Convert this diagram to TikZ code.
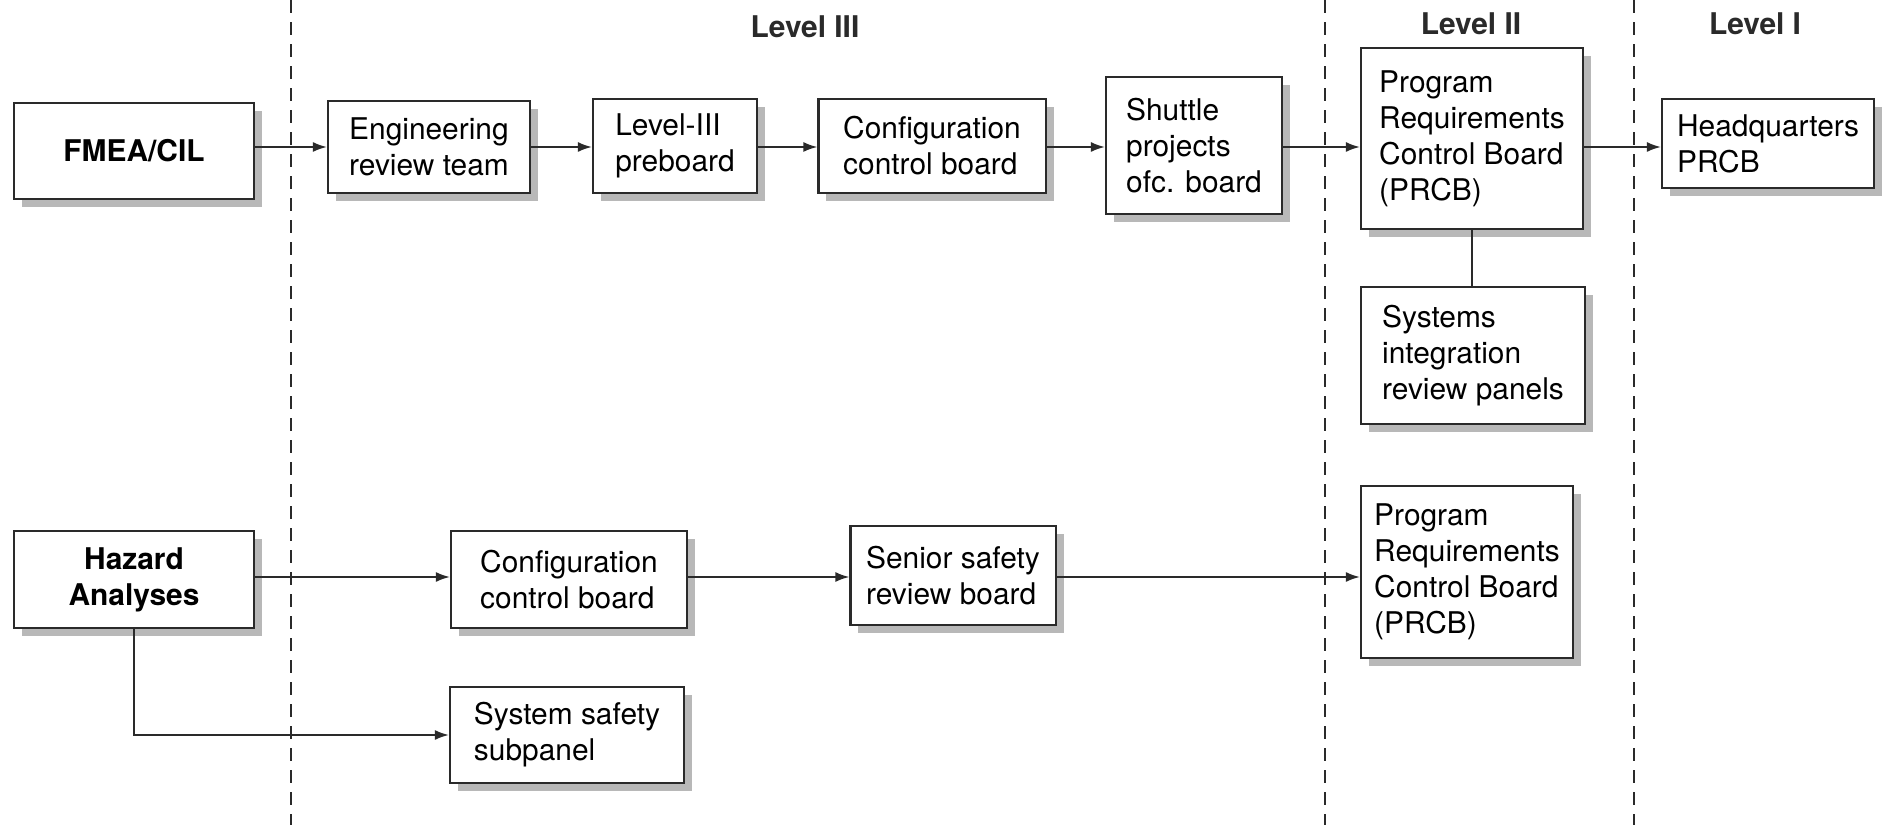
\documentclass[tikz,border=0pt]{standalone}
\usepackage{fontspec}
\setmainfont{TeX Gyre Heros}
\usetikzlibrary{arrows.meta,shadows}
\usepackage{xcolor}
\definecolor{shadowgray}{HTML}{B8B8B8}
\definecolor{inkgray}{HTML}{2A2A2A}

\begin{document}
\begin{tikzpicture}[x=0.01cm, y=-0.01cm,
  board/.style={draw=inkgray, line width=0.6pt, fill=white, align=left, inner sep=0pt,
    font=\fontsize{8.5}{10.2}\selectfont,
    drop shadow={shadow xshift=0.08cm, shadow yshift=-0.08cm, fill=shadowgray, opacity=1}},
  source/.style={board, align=center, font=\fontsize{8.5}{10.2}\selectfont\bfseries},
  flow/.style={draw=inkgray, line width=0.5pt, -{Latex[length=1.4mm,width=1mm]}},
  link/.style={draw=inkgray, line width=0.5pt},
  divider/.style={draw=inkgray, line width=0.55pt, dash pattern=on 0.13cm off 0.09cm},
  levelname/.style={font=\fontsize{8.5}{10.2}\selectfont\bfseries, text=inkgray}]
  \useasboundingbox (0,0) rectangle (1889,825);

  % Level dividers
  \draw[divider] (291,0) -- (291,825);
  \draw[divider] (1325,0) -- (1325,825);
  \draw[divider] (1634,0) -- (1634,825);

  % Level names
  \node[levelname] (lvl3) at (805,27) {Level III};
  \node[levelname] (lvl2) at (1471,24) {Level II};
  \node[levelname] (lvl1) at (1755,24) {Level I};

  % FMEA/CIL path
  \node[source, minimum width=2.39cm, minimum height=0.96cm] (fmea) at (134,151) {FMEA/CIL};
  \node[board, minimum width=2.02cm, minimum height=0.92cm] (eng) at (429,147) {Engineering\\review team};
  \node[board, minimum width=1.64cm, minimum height=0.94cm] (pre) at (675,146) {Level-III\\preboard};
  \node[board, minimum width=2.27cm, minimum height=0.94cm] (ccb) at (932,146) {Configuration\\control board};
  \node[board, minimum width=1.76cm, minimum height=1.37cm] (spo) at (1194,145.5) {Shuttle\\projects\\ofc. board};
  \node[board, minimum width=2.22cm, minimum height=1.81cm] (prcb) at (1472,138.5) {Program\\Requirements\\Control Board\\(PRCB)};
  \node[board, minimum width=2.12cm, minimum height=0.89cm] (hq) at (1768,143.5) {Headquarters\\PRCB};
  \node[board, minimum width=2.24cm, minimum height=1.37cm] (sirp) at (1473,355.5) {Systems\\integration\\review panels};

  % Hazard path
  \node[source, minimum width=2.39cm, minimum height=0.97cm] (haz) at (134,579.5) {Hazard\\Analyses};
  \node[board, minimum width=2.36cm, minimum height=0.97cm] (ccb2) at (569,579.5) {Configuration\\control board};
  \node[board, minimum width=2.05cm, minimum height=0.99cm] (ssrb) at (953,575.5) {Senior safety\\review board};
  \node[board, minimum width=2.12cm, minimum height=1.72cm] (prcb2) at (1467,572) {Program\\Requirements\\Control Board\\(PRCB)};
  \node[board, minimum width=2.34cm, minimum height=0.96cm] (ssp) at (567,735) {System safety\\subpanel};

  % Rows of arrows
  \coordinate (rowa) at (0,147);
  \coordinate (rowb) at (0,577);
  \draw[flow] (fmea.east |- rowa) -- (eng.west |- rowa);
  \draw[flow] (eng.east |- rowa) -- (pre.west |- rowa);
  \draw[flow] (pre.east |- rowa) -- (ccb.west |- rowa);
  \draw[flow] (ccb.east |- rowa) -- (spo.west |- rowa);
  \draw[flow] (spo.east |- rowa) -- (prcb.west |- rowa);
  \draw[flow] (prcb.east |- rowa) -- (hq.west |- rowa);
  \draw[link] (prcb.south) -- (prcb.south |- sirp.north);

  \draw[flow] (haz.east |- rowb) -- (ccb2.west |- rowb);
  \draw[flow] (ccb2.east |- rowb) -- (ssrb.west |- rowb);
  \draw[flow] (ssrb.east |- rowb) -- (prcb2.west |- rowb);
  \draw[flow] (haz.south) |- (ssp.west);
\end{tikzpicture}
\end{document}
